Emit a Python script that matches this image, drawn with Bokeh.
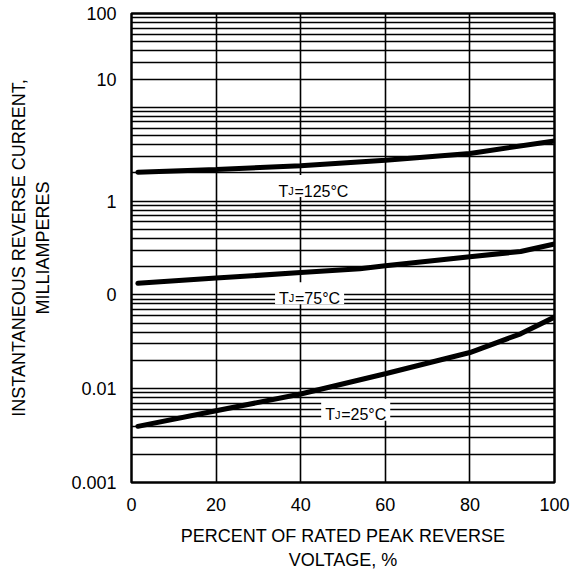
from bokeh.plotting import figure
from bokeh.models import FixedTicker, Label, ColumnDataSource
from bokeh.embed import file_html
from bokeh.resources import INLINE

# ---- data ----
x_125 = [1.5, 20, 40, 60, 80, 100]
y_125 = [2.03, 2.17, 2.38, 2.73, 3.22, 4.38]

x_75 = [1.5, 20, 40, 54, 60, 80, 92, 100]
y_75 = [0.133, 0.151, 0.173, 0.19, 0.205, 0.255, 0.29, 0.349]

x_25 = [1.5, 20, 40, 60, 80, 92, 100]
y_25 = [0.00397, 0.00583, 0.00877, 0.01445, 0.0243, 0.0385, 0.058]

x_ticks = [0, 20, 40, 60, 80, 100]
y_ticks = [0.001, 0.01, 0.1, 1, 20, 100]
y_tick_labels = ["0.001", "0.01", "0", "1", "10", "100"]

curve_labels = ["125°C", "75°C", "25°C"]
label_x = [43.0, 42.1, 53.0]        # centres of the label boxes
label_y = [1.445, 0.104, 0.00598]

FONT = "Liberation Sans"

p = figure(width=570, height=572, x_range=(0, 100), y_range=(0.001, 100),
           y_axis_type="log", output_backend="svg", toolbar_location=None,
           min_border_left=131, min_border_right=16, min_border_top=13,
           min_border_bottom=89, background_fill_color="white",
           border_fill_color="white")

p.outline_line_color = "black"
p.outline_line_width = 2.5

# grids
grid_vals = [m * 10.0 ** e for e in range(-3, 2) for m in range(1, 10)] + [100.0]
p.ygrid.ticker = FixedTicker(ticks=grid_vals)
p.ygrid.grid_line_color = "black"
p.ygrid.grid_line_width = 1.4
p.xgrid.ticker = FixedTicker(ticks=x_ticks)
p.xgrid.grid_line_color = "black"
p.xgrid.grid_line_width = 1.6

# axes
p.xaxis.ticker = FixedTicker(ticks=x_ticks)
p.yaxis.ticker = FixedTicker(ticks=y_ticks)
p.yaxis.major_label_overrides = {t: l for t, l in zip(y_ticks, y_tick_labels)}
for ax in (p.xaxis, p.yaxis):
    ax.axis_line_color = None
    ax.major_tick_line_color = None
    ax.minor_tick_line_color = None
    ax.major_label_text_font = FONT
    ax.major_label_text_font_size = "18px"
    ax.major_label_text_color = "black"
    ax.axis_label_text_font = FONT
    ax.axis_label_text_font_size = "18px"
    ax.axis_label_text_font_style = "normal"
    ax.axis_label_text_color = "black"
    ax.major_label_standoff = 9
p.xaxis.axis_label = "PERCENT OF RATED PEAK REVERSE\nVOLTAGE, %"
p.yaxis.axis_label = "INSTANTANEOUS REVERSE CURRENT,\nMILLIAMPERES"
p.xaxis.axis_label_standoff = 12
p.yaxis.axis_label_standoff = 15

# curves
for xs, ys in ((x_125, y_125), (x_75, y_75), (x_25, y_25)):
    p.line(xs, ys, line_color="black", line_width=5, line_cap="round")

# label text widths (Liberation Sans metrics, em units)
W = {"=": 0.584, "1": 0.556, "2": 0.556, "5": 0.556, "7": 0.556, "°": 0.4, "C": 0.722}
T_W = 0.611 * 16
J_W = 6.2
rest_w = [sum(W[c] for c in "=" + t) * 16 for t in curve_labels]
tot_w = [T_W + J_W + r for r in rest_w]

box_src = ColumnDataSource(dict(x=label_x, y=label_y, w=[t + 8 for t in tot_w]))
p.rect(x="x", y="y", width="w", height=22, width_units="screen",
       height_units="screen", source=box_src, fill_color="white",
       line_color=None)

for lx, ly, txt, tw in zip(label_x, label_y, curve_labels, tot_w):
    left = -tw / 2
    common = dict(x=lx, y=ly, text_font=FONT, text_color="black",
                  text_baseline="alphabetic", text_align="left", y_offset=-5)
    p.add_layout(Label(text="T", x_offset=left, text_font_size="16px", **common))
    p.add_layout(Label(text="J", x_offset=left + T_W, text_font_size="11px", **common))
    p.add_layout(Label(text="=" + txt, x_offset=left + T_W + J_W,
                       text_font_size="16px", **common))

open("out.html", "w").write(file_html(p, INLINE))
